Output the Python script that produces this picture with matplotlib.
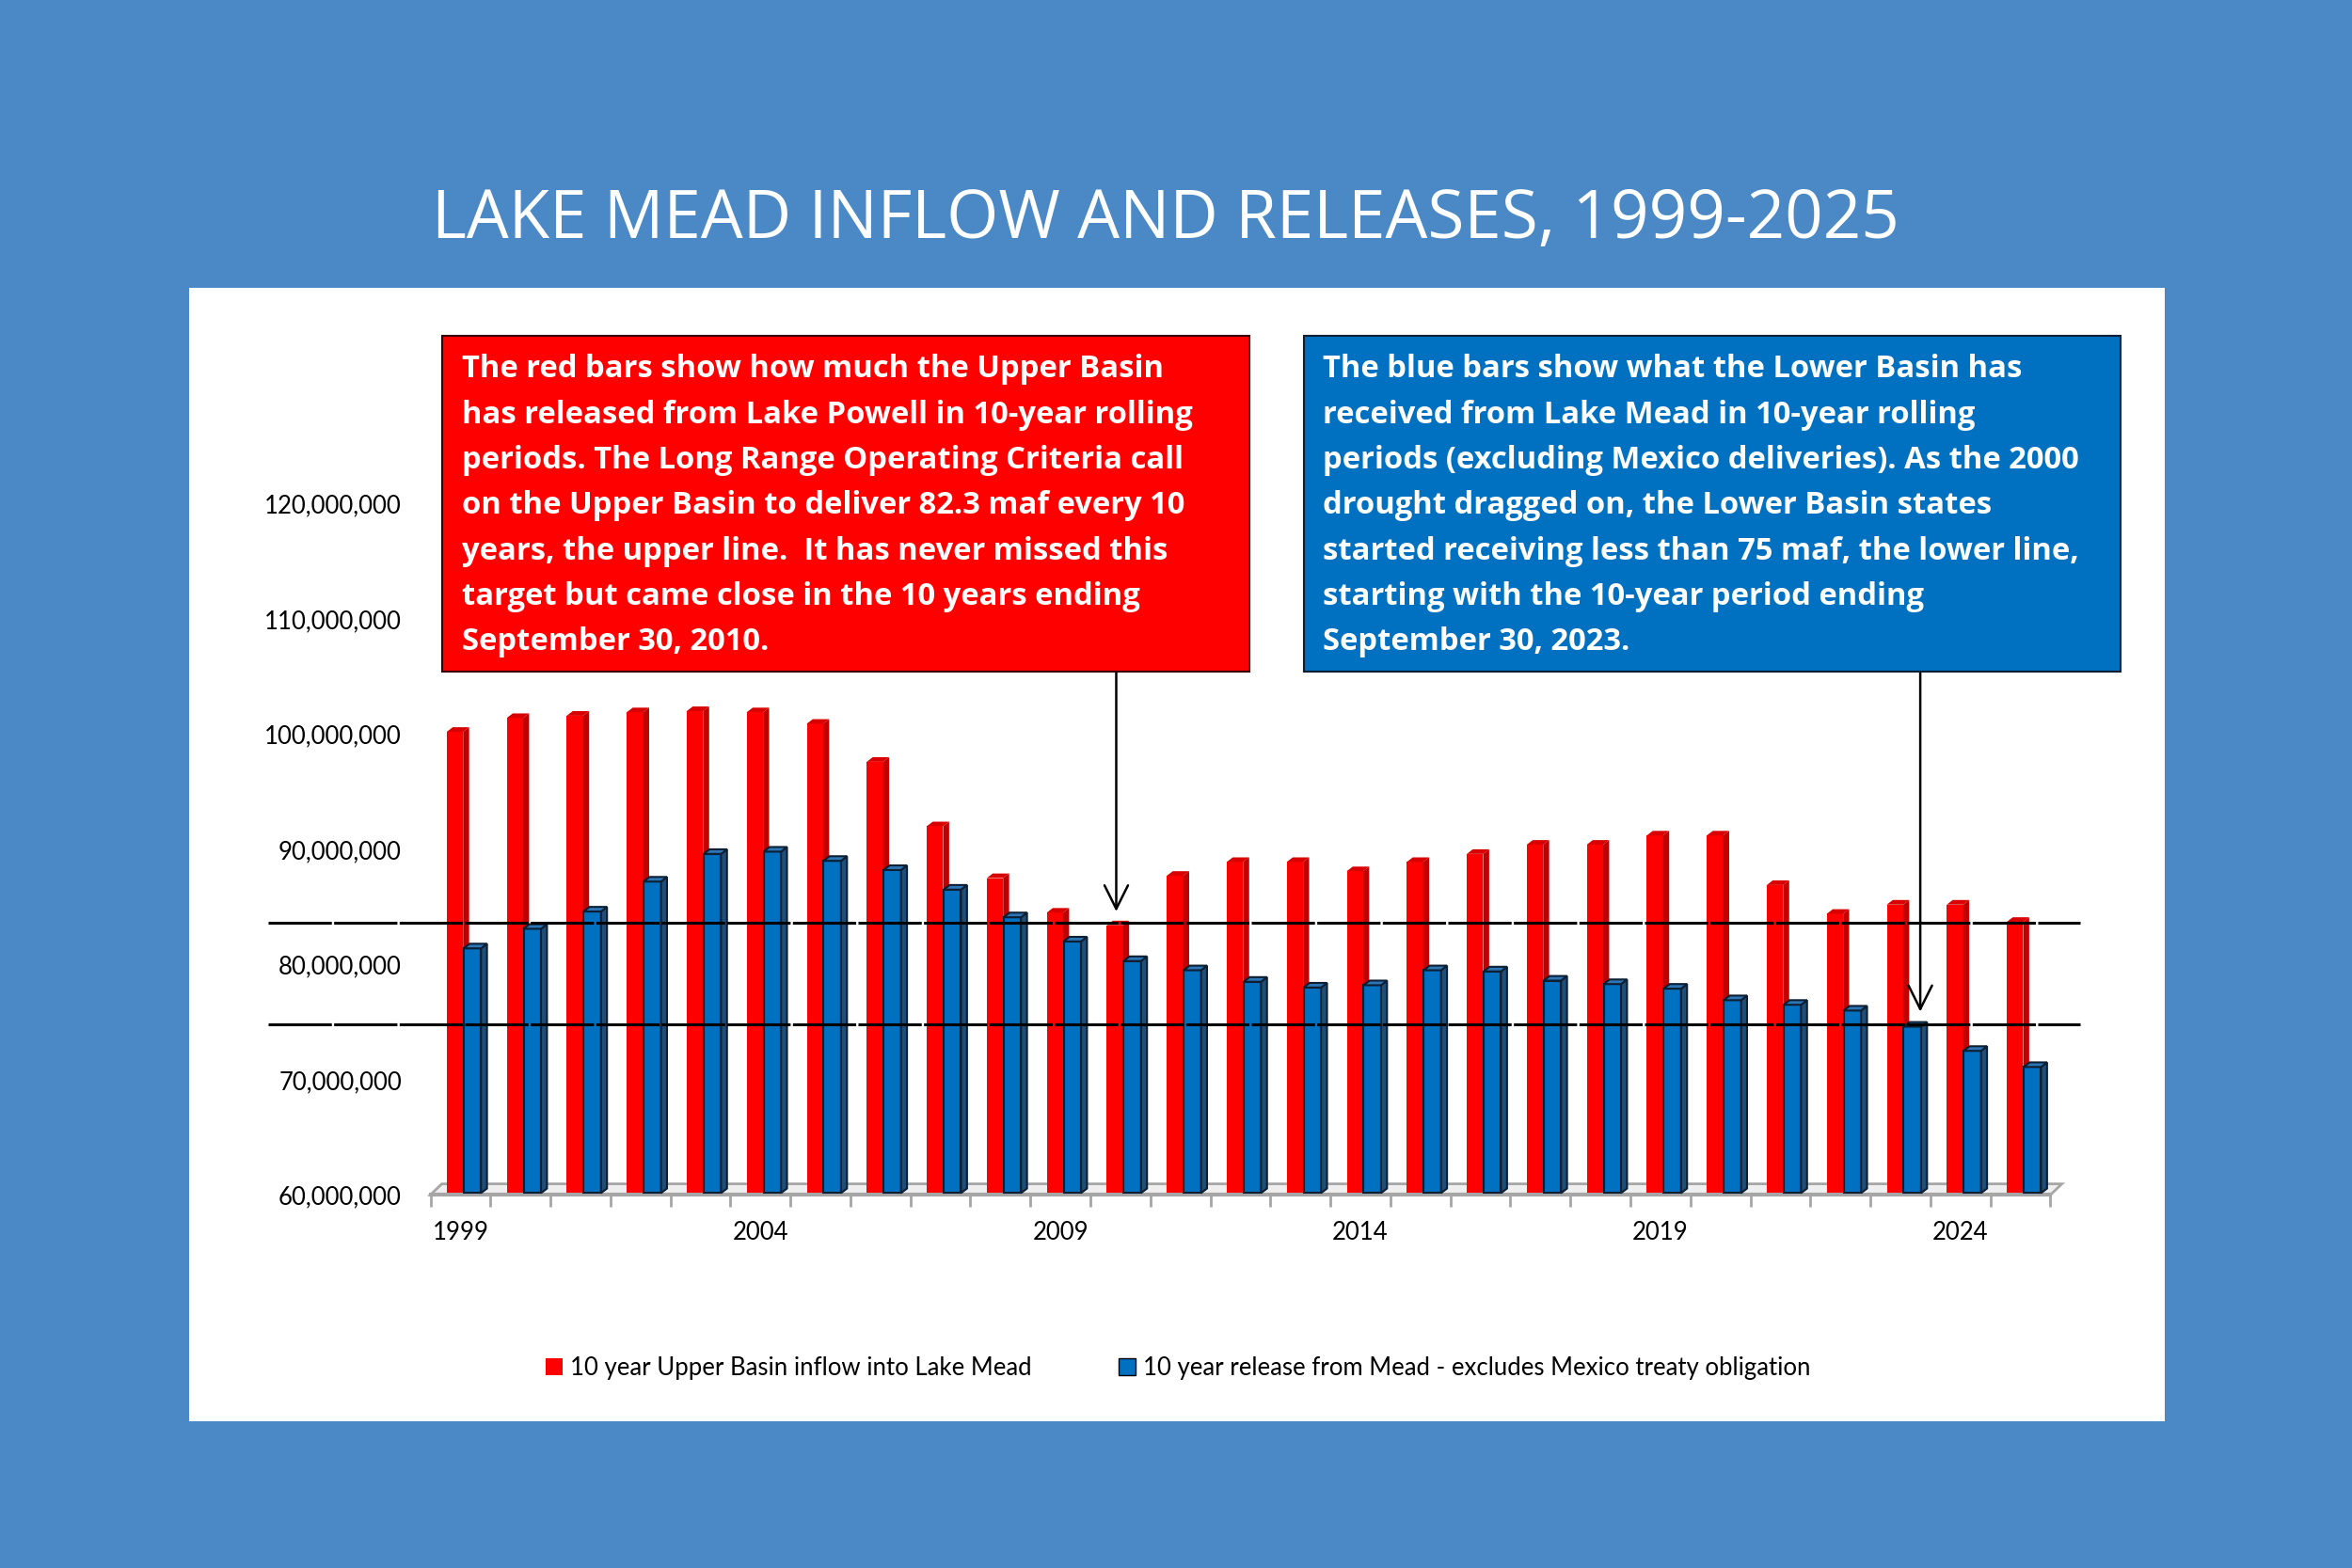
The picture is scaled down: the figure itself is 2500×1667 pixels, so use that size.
import numpy as np
import matplotlib.pyplot as plt
from matplotlib.patches import Polygon, Rectangle, Patch
from matplotlib.ticker import FuncFormatter

# 10-year rolling totals, acre-feet
years = list(range(1999, 2026))
upper_inflow = [100.2, 101.4, 101.6, 101.9, 102.0, 101.9, 100.9, 97.6, 92.0, 87.5,
                84.5, 83.4, 87.7, 88.9, 88.9, 88.1, 88.9, 89.6, 90.4, 90.4,
                91.2, 91.2, 86.9, 84.4, 85.2, 85.2, 83.7]
mead_release = [81.4, 83.1, 84.6, 87.2, 89.6, 89.8, 89.0, 88.2, 86.5, 84.1,
                82.0, 80.3, 79.5, 78.5, 78.0, 78.2, 79.5, 79.4, 78.6, 78.3,
                77.9, 76.9, 76.5, 76.0, 74.6, 72.5, 71.1]
upper_inflow = np.array(upper_inflow) * 1e6
mead_release = np.array(mead_release) * 1e6

# reference lines as drawn on the chart
upper_line = 83.6e6
lower_line = 74.8e6

title = "LAKE MEAD INFLOW AND RELEASES, 1999-2025"
red_note = ["The red bars show how much the Upper Basin",
            "has released from Lake Powell in 10-year rolling",
            "periods. The Long Range Operating Criteria call",
            "on the Upper Basin to deliver 82.3 maf every 10",
            "years, the upper line.  It has never missed this",
            "target but came close in the 10 years ending",
            "September 30, 2010."]
blue_note = ["The blue bars show what the Lower Basin has",
             "received from Lake Mead in 10-year rolling",
             "periods (excluding Mexico deliveries). As the 2000",
             "drought dragged on, the Lower Basin states",
             "started receiving less than 75 maf, the lower line,",
             "starting with the 10-year period ending",
             "September 30, 2023."]
legend_labels = ["10 year Upper Basin inflow into Lake Mead",
                 "10 year release from Mead - excludes Mexico treaty obligation"]

BG = "#4A89C6"
RED, RED_SIDE, RED_TOP = "#FF0000", "#C00000", "#D80000"
BLUE, BLUE_SIDE, BLUE_TOP = "#0070C0", "#1F4E79", "#2E75B6"
FONT = "Lato"

fig = plt.figure(figsize=(25, 16.67), dpi=100, facecolor=BG)

# white panel
fig.patches.append(Rectangle((0.0804, 0.0937), 0.8399, 0.7227, transform=fig.transFigure,
                             facecolor="white", edgecolor="none", zorder=-5))
fig.text(0.4955, 0.8595, title, ha="center", va="center", color="white",
         fontsize=51, family="Open Sans")

ax = fig.add_axes([0.1830, 0.2380, 0.6888, 0.4407])
ax.set_facecolor("none")
base = 60e6
ax.set_xlim(-0.5, 26.5)
ax.set_ylim(base, 120e6)
for s in ax.spines.values():
    s.set_visible(False)

x = np.arange(len(years))
dx, dy = 0.1, 0.4e6

# floor
floor = Polygon([(-0.5, base), (26.5, base), (26.5 + 0.19, base + 0.95e6), (-0.5 + 0.19, base + 0.95e6)],
                closed=True, facecolor="#EFEFEF", edgecolor="#A6A6A6", lw=2, zorder=1, clip_on=False)
ax.add_patch(floor)
ax.plot([-0.5, 26.5], [base, base], color="#A6A6A6", lw=3, zorder=1.1, clip_on=False)


def bars3d(left, width, vals, front, side, top, edge, z):
    lw = 1.5 if edge != "none" else 0
    b = base + 0.15e6
    ax.bar(left, vals - b, width=width, bottom=b, align="edge", color=front,
           edgecolor=edge, linewidth=lw, zorder=z)
    for l, v in zip(left, vals):
        r = l + width
        ax.add_patch(Polygon([(r, b), (r + dx, b + dy), (r + dx, v + dy), (r, v)], closed=True,
                             facecolor=side, edgecolor=edge, lw=lw, zorder=z))
        ax.add_patch(Polygon([(l, v), (l + dx, v + dy), (r + dx, v + dy), (r, v)], closed=True,
                             facecolor=top, edgecolor=edge, lw=lw, zorder=z))


bars3d(x - 0.228, 0.273, upper_inflow, RED, RED_SIDE, RED_TOP, "none", 2)
bars3d(x + 0.053, 0.29, mead_release, BLUE, BLUE_SIDE, BLUE_TOP, "#0D1F33", 3)

# target lines
for lv in (upper_line, lower_line):
    ax.plot([-3.2, 27.0], [lv, lv], color="black", lw=2.2, zorder=4, clip_on=False,
            linestyle=(0, (22, 0.8)))

# ticks
ax.set_yticks(np.arange(60e6, 120e6 + 1, 10e6))
ax.yaxis.set_major_formatter(FuncFormatter(lambda v, p: f"{int(v):,}"))
ax.tick_params(axis="y", length=0, pad=22, labelsize=18.5)
lab_idx = [i for i, yr in enumerate(years) if (yr - 1999) % 5 == 0]
ax.set_xticks(lab_idx)
ax.set_xticklabels([str(years[i]) for i in lab_idx])
ax.tick_params(axis="x", length=0, pad=20, labelsize=18.5)
ax.set_xticks(np.arange(-0.5, 27, 1), minor=True)
ax.tick_params(axis="x", which="minor", length=9, width=2, color="#A6A6A6")
for t in ax.get_xticklabels() + ax.get_yticklabels():
    t.set_family(FONT)


# note boxes
def note(x0, x1, lines, color):
    y_top, y_bot = 1 - 224 / 1046, 1 - 448 / 1046
    fig.patches.append(Rectangle((x0, y_bot), x1 - x0, y_top - y_bot, transform=fig.transFigure,
                                 facecolor=color, edgecolor="#3A0000" if color == RED else "#0D1F33",
                                 lw=1.5, zorder=5))
    for k, line in enumerate(lines):
        fig.text(x0 + 13 / 1568, 1 - (246.5 + 30.33 * k) / 1046, line, ha="left", va="center",
                 color="white", fontsize=23.6, fontweight="bold", family="Open Sans", zorder=6)


note(295 / 1568, 833 / 1568, red_note, RED)
note(869 / 1568, 1414 / 1568, blue_note, BLUE)

# arrows
for ax_x, tip, tail in ((10.93, 84.6e6, 105.4e6), (24.33, 75.9e6, 105.9e6)):
    ax.annotate("", xy=(ax_x, tip), xytext=(ax_x, tail),
                arrowprops=dict(arrowstyle="->,head_length=0.9,head_width=0.45", color="black", lw=1.8,
                                shrinkA=0, shrinkB=0, mutation_scale=20), zorder=6, annotation_clip=False)

handles = [Patch(facecolor=RED, edgecolor="none"), Patch(facecolor=BLUE, edgecolor="black")]
fig.legend(handles, legend_labels, loc="center", bbox_to_anchor=(0.501, 0.1272), ncol=2,
           frameon=False, prop={"family": FONT, "size": 18.5}, handlelength=0.7, handleheight=0.7,
           handletextpad=0.3, columnspacing=3.6)

fig.savefig("out.png", dpi=100, facecolor=BG)
